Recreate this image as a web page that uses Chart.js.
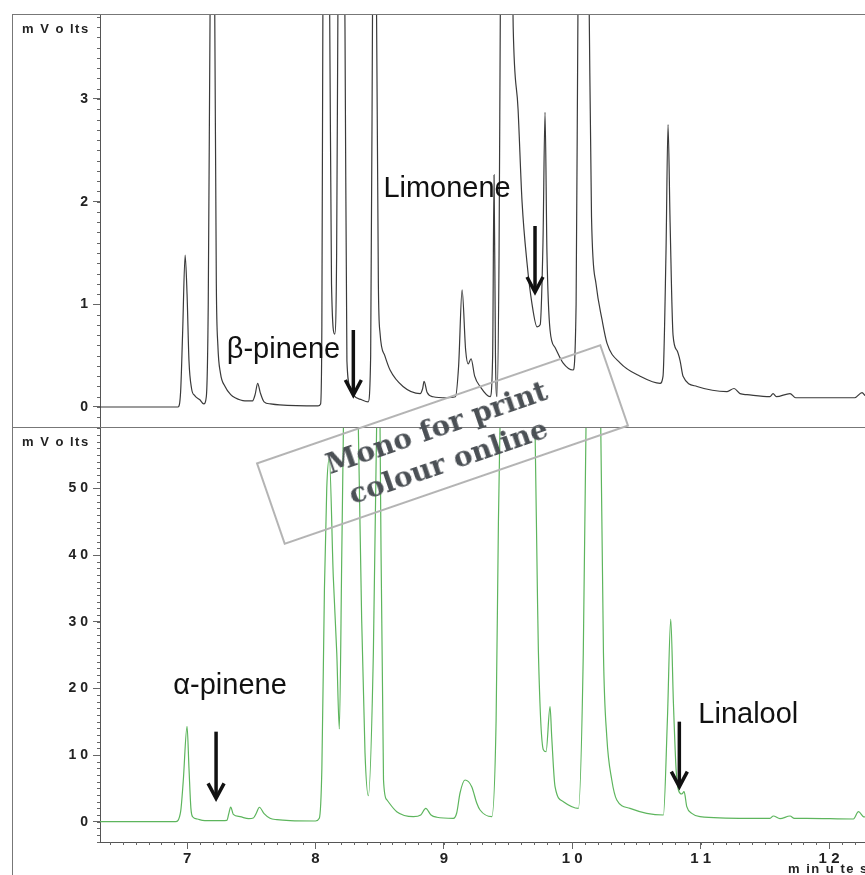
<!DOCTYPE html>
<html>
<head>
<meta charset="utf-8">
<script src="https://cdn.jsdelivr.net/npm/chart.js@4.4.0/dist/chart.umd.min.js"></script>
<style>
    body { margin: 0; width: 865px; height: 875px; background: #fff; position: relative; overflow: hidden; }
    .rule { position: absolute; background: #777; }
    .box { position: absolute; }
    #stamp {
        position: absolute; left: 260px; top: 401px; width: 365px; height: 87px;
        box-sizing: border-box; border: 2px solid #b4b4b4;
        transform: rotate(-19deg);
        display: flex; flex-direction: column; justify-content: center; align-items: center;
        font: bold 28px 'DejaVu Serif', serif; line-height: 36px; color: #4b5055;
    }
</style>
</head>
<body>
<div class="rule" style="left:12px;top:14px;width:1px;height:861px"></div>
<div class="rule" style="left:12px;top:14px;width:853px;height:1px"></div>
<div class="rule" style="left:12px;top:427px;width:853px;height:1px"></div>
<div class="box" style="left:13px;top:15px;width:852px;height:412px"><canvas id="topChart"></canvas></div>
<div class="box" style="left:13px;top:428px;width:852px;height:447px"><canvas id="bottomChart"></canvas></div>
<div id="stamp"><div>Mono for print</div><div>colour online</div></div>
<script>
// retention time (min) and detector signal (mV)
const topTimes = [6.32, 6.93, 6.95, 6.965, 6.985, 7.0, 7.015, 7.035, 7.06, 7.1, 7.13, 7.15, 7.165, 7.18, 7.195, 7.215, 7.228, 7.24, 7.26, 7.296,
    7.34, 7.374, 7.45, 7.51, 7.53, 7.55, 7.57, 7.6, 7.65, 7.72, 8.02, 8.04, 8.05, 8.058, 8.08, 8.11, 8.125, 8.15, 8.165, 8.175,
    8.2, 8.23, 8.245, 8.27, 8.3, 8.36, 8.41, 8.43, 8.445, 8.46, 8.475, 8.49, 8.503, 8.54, 8.581, 8.682, 8.815, 8.835, 8.846, 8.87,
    8.916, 9.025, 9.09, 9.115, 9.142, 9.17, 9.19, 9.212, 9.24, 9.282, 9.36, 9.38, 9.391, 9.402, 9.414, 9.43, 9.44, 9.47, 9.5, 9.525,
    9.54, 9.578, 9.609, 9.648, 9.687, 9.726, 9.75, 9.772, 9.788, 9.803, 9.827, 9.866, 9.928, 10.006, 10.03, 10.045, 10.09, 10.131, 10.15, 10.185,
    10.232, 10.271, 10.372, 10.528, 10.684, 10.707, 10.73, 10.746, 10.762, 10.785, 10.816, 10.84, 10.863, 10.972, 11.206, 11.26, 11.307, 11.361, 11.54, 11.564,
    11.59, 11.696, 11.74, 11.875, 12.2, 12.257, 12.28];
const topMv = [0, 0, 0.15, 0.7, 1.48, 1.1, 0.45, 0.18, 0.11, 0.07, 0.03, 0.1, 1.0, 4.0, 6.0, 4.0, 1.2, 0.6, 0.33, 0.2,
    0.12, 0.09, 0.06, 0.06, 0.12, 0.23, 0.14, 0.05, 0.03, 0.02, 0.01, 0.03, 0.8, 3.9, 6.0, 4.0, 1.2, 0.71, 1.5, 3.9,
    7.0, 3.7, 0.45, 0.2, 0.11, 0.07, 0.05, 0.5, 4.0, 8.0, 4.0, 1.2, 0.72, 0.5, 0.36, 0.2, 0.13, 0.18, 0.25, 0.14,
    0.1, 0.09, 0.1, 0.4, 1.14, 0.55, 0.42, 0.47, 0.3, 0.2, 0.1, 0.5, 2.26, 0.5, 0.1, 1.5, 3.9, 9.0, 9.0, 5.0,
    3.7, 2.9, 2.0, 1.4, 1.0, 0.78, 0.8, 1.6, 2.87, 1.5, 0.75, 0.58, 0.43, 0.36, 1.0, 4.0, 9.0, 4.0, 1.85, 1.2,
    0.85, 0.62, 0.43, 0.3, 0.23, 0.3, 1.5, 2.75, 1.8, 0.7, 0.55, 0.45, 0.3, 0.2, 0.15, 0.18, 0.13, 0.12, 0.1, 0.13,
    0.1, 0.13, 0.09, 0.09, 0.09, 0.14, 0.11];

const bottomTimes = [6.32, 6.91, 6.95, 6.97, 7.0, 7.015, 7.03, 7.045, 7.08, 7.12, 7.22, 7.31, 7.325, 7.34, 7.36, 7.413, 7.48, 7.516, 7.54, 7.563,
    7.6, 7.646, 7.7, 7.802, 8.0, 8.03, 8.05, 8.07, 8.088, 8.108, 8.139, 8.166, 8.186, 8.205, 8.218, 8.27, 8.334, 8.36, 8.386, 8.412,
    8.451, 8.477, 8.49, 8.503, 8.53, 8.555, 8.633, 8.763, 8.82, 8.859, 8.9, 8.945, 9.074, 9.1, 9.126, 9.165, 9.217, 9.256, 9.282, 9.373,
    9.407, 9.425, 9.438, 9.55, 9.71, 9.728, 9.736, 9.775, 9.796, 9.827, 9.84, 9.866, 9.931, 10.048, 10.086, 10.107, 10.16, 10.222, 10.243, 10.269,
    10.308, 10.347, 10.45, 10.58, 10.71, 10.741, 10.767, 10.788, 10.809, 10.827, 10.853, 10.871, 10.892, 10.931, 10.995, 11.359, 11.54, 11.566, 11.618, 11.696,
    11.73, 11.826, 12.19, 12.229, 12.268, 12.28];
const bottomMv = [0, 0, 1.5, 6, 14.3, 8, 2, 0.7, 0.4, 0.2, 0.15, 0.2, 1.2, 2.2, 1.1, 0.75, 0.45, 0.55, 1.3, 2.16,
    1.2, 0.5, 0.3, 0.15, 0.1, 0.5, 8, 35, 50, 54.5, 36.7, 25.3, 13.9, 40, 59.5, 150, 59, 30.3, 10.3, 3.9,
    25.3, 60, 90, 59, 6.3, 3.3, 1.5, 0.75, 1.0, 2.0, 1.0, 0.66, 0.5, 1.3, 4.3, 6.25, 5.25, 2.8, 1.75, 0.75,
    15.3, 45, 60, 200, 59.2, 35.2, 25.8, 10.8, 10.5, 17.25, 12.75, 5.25, 3.0, 2.0, 25.3, 59, 200, 59.2, 25.3, 12.75,
    6.25, 3.25, 2.0, 1.25, 1.0, 15.3, 30.4, 17.75, 7.75, 4.75, 4.15, 4.5, 2.25, 1.25, 0.75, 0.5, 0.5, 0.85, 0.45, 0.85,
    0.5, 0.5, 0.4, 1.5, 0.75, 0.7];

const xTicks = [7, 8, 9, 10, 11, 12];
const topYTicks = [0, 1, 2, 3];
const bottomYTicks = [0, 10, 20, 30, 40, 50];

// compound labels and arrows, in (minutes, mV)
const topLabels = [
    { text: 'β-pinene', t: 7.309, v: 0.477 },
    { text: 'Limonene', t: 8.529, v: 2.048 }
];
const topArrows = [
    { t: 8.295, from: 0.75, to: 0.117 },
    { t: 9.71, from: 1.763, to: 1.12 }
];
const bottomLabels = [
    { text: 'α-pinene', t: 6.893, v: 19.15 },
    { text: 'Linalool', t: 10.982, v: 14.76 }
];
const bottomArrows = [
    { t: 7.226, from: 13.5, to: 3.5 },
    { t: 10.834, from: 15.0, to: 5.25 }
];

const X_MIN = 6.322, X_MAX = 12.28;
const FONT = "'Liberation Sans', Arial, sans-serif";
const spaced = v => String(v).split('').join(' ');

const minorTicks = {
    id: 'minorTicks',
    afterDraw(chart, args, opts) {
        const { ctx, chartArea, scales } = chart;
        ctx.save();
        ctx.strokeStyle = '#666';
        ctx.lineWidth = 1;
        ctx.beginPath();
        const ys = scales.y;
        for (let i = Math.ceil(ys.min / opts.y); i * opts.y <= ys.max; i++) {
            const py = Math.round(ys.getPixelForValue(i * opts.y)) + 0.5;
            ctx.moveTo(chartArea.left - 3, py);
            ctx.lineTo(chartArea.left, py);
        }
        if (opts.x) {
            const xs = scales.x;
            for (let i = Math.ceil(xs.min / opts.x); i * opts.x <= xs.max; i++) {
                const px = Math.round(xs.getPixelForValue(i * opts.x)) + 0.5;
                ctx.moveTo(px, chartArea.bottom);
                ctx.lineTo(px, chartArea.bottom + 3);
            }
        }
        ctx.stroke();
        ctx.restore();
    }
};

function notes(labels, arrows, units) {
    return {
        id: 'notes',
        afterDatasetsDraw(chart) {
            const { ctx, chartArea, scales: { x, y } } = chart;
            ctx.save();
            ctx.fillStyle = '#111';
            ctx.font = '29px ' + FONT;
            ctx.textBaseline = 'alphabetic';
            labels.forEach(l => ctx.fillText(l.text, x.getPixelForValue(l.t), y.getPixelForValue(l.v)));
            ctx.strokeStyle = '#111';
            ctx.lineWidth = 3.5;
            arrows.forEach(a => {
                const px = x.getPixelForValue(a.t);
                const y1 = y.getPixelForValue(a.from), y2 = y.getPixelForValue(a.to);
                ctx.beginPath();
                ctx.moveTo(px, y1);
                ctx.lineTo(px, y2 - 2);
                ctx.stroke();
                ctx.beginPath();
                ctx.moveTo(px - 8, y2 - 15);
                ctx.lineTo(px, y2);
                ctx.lineTo(px + 8, y2 - 15);
                ctx.stroke();
            });
            ctx.fillStyle = '#222';
            ctx.font = 'bold 13px ' + FONT;
            ctx.letterSpacing = '1.5px';
            ctx.fillText('m V o lts', chartArea.left - 78, chartArea.top + 18);
            if (units) ctx.fillText('m in u te s', chartArea.right - 77, chartArea.bottom + 31);
            ctx.restore();
        }
    };
}

function yAxis(min, max, ticks) {
    return {
        min: min, max: max,
        afterFit(s) { s.width = 87; s.paddingTop = 0; s.paddingBottom = 0; },
        afterBuildTicks(s) { s.ticks = ticks.map(v => ({ value: v })); },
        ticks: { callback: spaced, color: '#222', padding: 5, font: { family: FONT, size: 14, weight: 'bold' } },
        grid: { drawOnChartArea: false, tickLength: 7, color: '#666' },
        border: { color: '#555' }
    };
}

function trace(times, values, colour) {
    return {
        data: times.map((t, i) => ({ x: t, y: values[i] })),
        borderColor: colour,
        borderWidth: 1.2,
        pointRadius: 0,
        cubicInterpolationMode: 'monotone'
    };
}

new Chart(document.getElementById('topChart'), {
    type: 'line',
    data: { datasets: [trace(topTimes, topMv, '#3a3a3a')] },
    options: {
        responsive: true, maintainAspectRatio: false, animation: false, events: [],
        layout: { padding: 0 },
        plugins: { legend: { display: false }, tooltip: { enabled: false }, minorTicks: { y: 0.1 } },
        scales: {
            x: { type: 'linear', min: X_MIN, max: X_MAX, display: false },
            y: yAxis(-0.195, 3.818, topYTicks)
        }
    },
    plugins: [minorTicks, notes(topLabels, topArrows, false)]
});

new Chart(document.getElementById('bottomChart'), {
    type: 'line',
    data: { datasets: [trace(bottomTimes, bottomMv, '#5db55d')] },
    options: {
        responsive: true, maintainAspectRatio: false, animation: false, events: [],
        layout: { padding: 0 },
        plugins: { legend: { display: false }, tooltip: { enabled: false }, minorTicks: { y: 1, x: 0.1 } },
        scales: {
            x: {
                type: 'linear', min: X_MIN, max: X_MAX,
                afterFit(s) { s.height = 33; s.paddingLeft = 0; s.paddingRight = 0; },
                afterBuildTicks(s) { s.ticks = xTicks.map(v => ({ value: v })); },
                ticks: { callback: spaced, color: '#222', padding: 1, maxRotation: 0, autoSkip: false, font: { family: FONT, size: 15, weight: 'bold' } },
                grid: { drawOnChartArea: false, tickLength: 7, color: '#666' },
                border: { color: '#555' }
            },
            y: yAxis(-3.05, 59.05, bottomYTicks)
        }
    },
    plugins: [minorTicks, notes(bottomLabels, bottomArrows, true)]
});
</script>
</body>
</html>
